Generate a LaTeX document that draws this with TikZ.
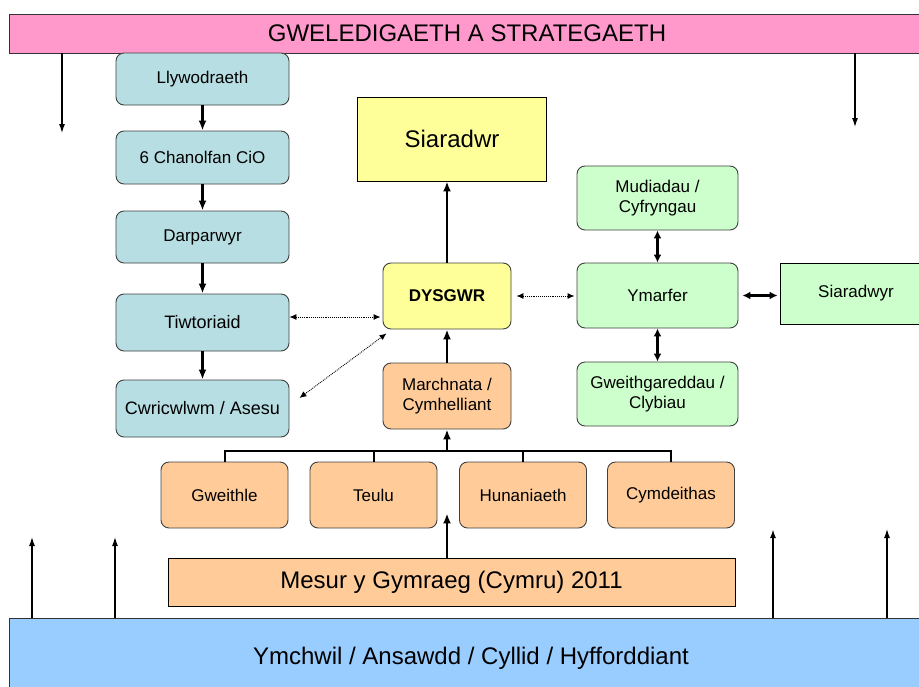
\documentclass[tikz,border=0pt]{standalone}
\usepackage{fontspec}
\setmainfont{Liberation Sans}
\usetikzlibrary{arrows.meta}
\definecolor{visionpink}{RGB}{255,153,204}
\definecolor{cioblue}{RGB}{183,222,226}
\definecolor{learnyellow}{RGB}{255,255,153}
\definecolor{motiveorange}{RGB}{255,204,153}
\definecolor{practicegreen}{RGB}{204,255,204}
\definecolor{researchblue}{RGB}{153,204,255}

\begin{document}
\begin{tikzpicture}[x=1pt, y=-1pt,
          box/.style={draw=black!75, line width=0.9pt, rounded corners=8pt, align=center, inner sep=2pt, font=\fontsize{17}{20}\selectfont},
          cio/.style={box, fill=cioblue, minimum width=173pt, minimum height=52pt},
          learner/.style={box, fill=learnyellow, minimum width=128pt, minimum height=66pt},
          motive/.style={box, fill=motiveorange, minimum width=127pt, minimum height=66pt},
          practice/.style={box, fill=practicegreen, minimum width=161pt, minimum height=64pt},
          flat/.style={draw=black, line width=0.9pt, align=center, inner sep=2pt, font=\fontsize{17}{20}\selectfont},
          bar/.style={draw=black!80, line width=0.9pt, inner sep=0pt, font=\fontsize{24}{28}\selectfont},
          flow/.style={line width=2.2pt, -{Latex[length=10pt,width=8pt]}},
          twoway/.style={line width=2.2pt, {Latex[length=8pt,width=8pt]}-{Latex[length=8pt,width=8pt]}},
          hint/.style={line width=0.9pt, densely dotted, {Latex[length=7pt,width=6pt]}-{Latex[length=7pt,width=6pt]}},
          feed/.style={line width=1.2pt, -{Latex[length=9pt,width=6pt]}},
          tree/.style={line width=2pt},
          node distance=149pt,
          ]

          \useasboundingbox (0,0) rectangle (919,686);

          \node[bar, fill=visionpink, minimum width=916pt, minimum height=39pt] (vision) at (467,33.5) {GWELEDIGAETH A STRATEGAETH};
          \node[bar, fill=researchblue, minimum width=924pt, minimum height=80pt] (research) at (471,658) {Ymchwil / Ansawdd / Cyllid / Hyfforddiant};

          \node[cio] (llyw) at (202.5,79) {Llywodraeth};
          \node[cio, minimum height=53pt, below of=llyw, node distance=78.5pt] (chan) {6 Chanolfan CiO};
          \node[cio, below of=chan, node distance=79.5pt] (darp) {Darparwyr};
          \node[cio, minimum height=57pt, font=\fontsize{18}{21}\selectfont, below of=darp, node distance=85.5pt] (tiwt) {Tiwtoriaid};
          \node[cio, minimum height=57pt, font=\fontsize{18}{21}\selectfont, below of=tiwt, node distance=86pt] (cwric) {Cwricwlwm / Asesu};

          \node[flat, fill=learnyellow, minimum width=189pt, minimum height=84pt, font=\fontsize{24}{28}\selectfont] (siar) at (452,139) {Siaradwr};
          \node[learner, font=\fontsize{17}{20}\selectfont\bfseries] (dysg) at (447,296) {DYSGWR};
          \node[learner, fill=motiveorange] (march) at (447,396) {Marchnata /\\Cymhelliant};

          \node[practice] (mudi) at (657.5,198) {Mudiadau /\\Cyfryngau};
          \node[practice, minimum height=65pt] (ymarf) at (657.5,295.5) {Ymarfer};
          \node[practice] (gweithg) at (657.5,394) {Gweithgareddau /\\Clybiau};
          \node[flat, fill=practicegreen, minimum width=152pt, minimum height=61pt] (siaradwyr) at (856,293.5) {Siaradwyr};

          \node[motive] (gweithle) at (224.5,495) {Gweithle};
          \node[motive, right of=gweithle] (teulu) {Teulu};
          \node[motive, right of=teulu, node distance=149.5pt] (hunan) {Hunaniaeth};
          \node[motive, right of=hunan, node distance=148pt] (cymd) {Cymdeithas};

          \node[flat, fill=motiveorange, minimum width=567pt, minimum height=48pt, font=\fontsize{24}{28}\selectfont] (mesur) at (451.5,582) {Mesur y Gymraeg (Cymru) 2011};

          \coordinate (vl) at (62,133);
          \coordinate (vr) at (855,127);
          \coordinate (u1) at (32,537);
          \coordinate (u2) at (115,537);
          \coordinate (u3) at (773,529);
          \coordinate (u4) at (887,529);
          \coordinate (hub) at ([yshift=-22pt]march.south);

          \draw[feed] (vision.south -| vl) -- (vl);
          \draw[feed] (vision.south -| vr) -- (vr);
          \draw[feed] (research.north -| u1) -- (u1);
          \draw[feed] (research.north -| u2) -- (u2);
          \draw[feed, line width=2pt] (research.north -| u3) -- (u3);
          \draw[feed] (research.north -| u4) -- (u4);

          \draw[flow] (llyw) -- (chan);
          \draw[flow] (chan) -- (darp);
          \draw[flow] (darp) -- (tiwt);
          \draw[flow] (tiwt) -- (cwric);

          \draw[flow] (dysg.north) -- (dysg.north |- siar.south);
          \draw[flow] (march) -- (dysg);

          \draw[hint] ([yshift=5.5pt]tiwt.east) -- ([yshift=5.5pt, xshift=-2pt]tiwt.east -| dysg.west);
          \draw[hint] ([xshift=10pt, yshift=10.5pt]cwric.east) -- ([xshift=4pt, yshift=-4pt]dysg.south west);
          \draw[hint, shorten <=5pt, shorten >=2pt] (dysg.east) -- (dysg.east -| ymarf.west);

          \draw[twoway] (mudi) -- (ymarf);
          \draw[twoway] (ymarf) -- (gweithg);
          \draw[twoway, shorten <=4pt, shorten >=2pt] (ymarf.east) -- (ymarf.east -| siaradwyr.west);

          \draw[tree] (gweithle.north) |- (hub) -| (cymd.north);
          \draw[tree] (teulu.north) -- (teulu.north |- hub);
          \draw[tree] (hunan.north) -- (hunan.north |- hub);
          \draw[flow] (hub) -- (march);
          \draw[flow] (mesur.north -| hub) -- ([yshift=15pt]hub |- teulu.south);

        \end{tikzpicture}
\end{document}
